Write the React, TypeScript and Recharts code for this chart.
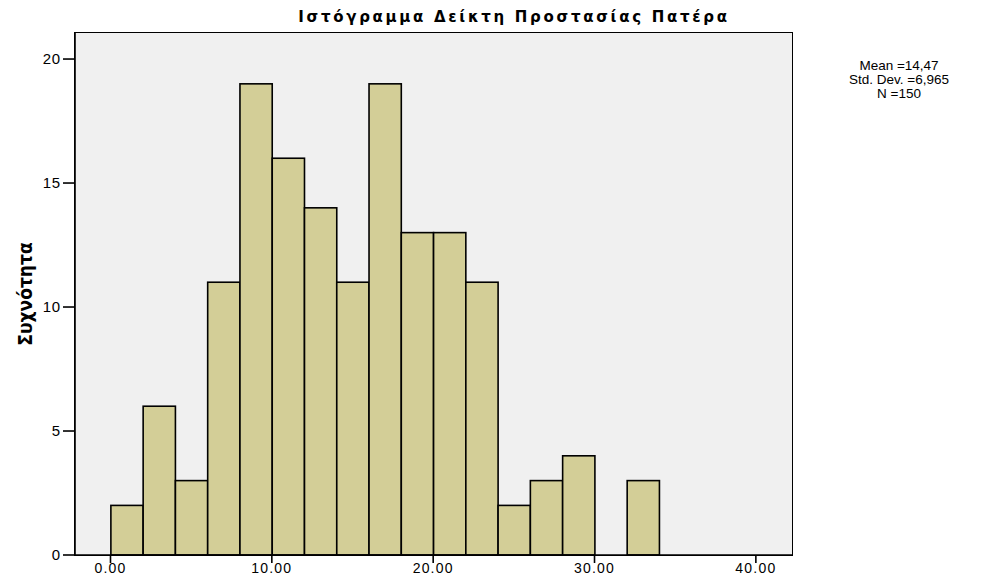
import React from 'react';
import { ComposedChart, Bar, XAxis, YAxis, CartesianGrid } from 'recharts';

// histogram bins (midpoints) and counts
const binMids = [1, 3, 5, 7, 9, 11, 13, 15, 17, 19, 21, 23, 25, 27, 29, 31, 33];
const counts = [2, 6, 3, 11, 19, 16, 14, 11, 19, 13, 13, 11, 2, 3, 4, 0, 3];
const xTicks = [0, 10, 20, 30, 40];
const yTicks = [0, 5, 10, 15, 20];
const statLines = ['Mean =14,47', 'Std. Dev. =6,965', 'N =150'];

const BIN_WIDTH = 2;
const X_DOMAIN: [number, number] = [-2.2, 42.24];
const Y_DOMAIN: [number, number] = [0, 21.05];

const W = 991;
const H = 581;
const PLOT_LEFT = 75;
const PLOT_RIGHT = 792;
const PLOT_TOP = 33;
const PLOT_BOTTOM = 555;

const data = binMids.map((mid, i) => ({ mid, count: counts[i] }));

const binPx = ((PLOT_RIGHT - PLOT_LEFT) / (X_DOMAIN[1] - X_DOMAIN[0])) * BIN_WIDTH;

const fmt = (v: number) => v.toFixed(2).replace('.', ',');

// full-width bins, centred on whatever x recharts gives the bar
const HistBar = (props: any) => {
  const { x, y, width, height } = props;
  if (!height || height <= 0) return null;
  const cx = x + width / 2;
  return (
    <rect x={cx - binPx / 2} y={y} width={binPx} height={height} fill="#d3ce97" stroke="#000" strokeWidth={1.6} />
  );
};

const App = () => {
  return (
    <div style={{ position: 'relative', width: W, height: H, margin: -8, background: '#fff', fontFamily: '"Liberation Sans", Arial, sans-serif' }}>
      <ComposedChart
        width={W}
        height={H}
        data={data}
        margin={{ top: PLOT_TOP, right: W - PLOT_RIGHT, left: PLOT_LEFT - 60, bottom: H - PLOT_BOTTOM - 26 }}
      >
        <CartesianGrid fill="#f0f0f0" horizontal={false} vertical={false} />
        <XAxis
          dataKey="mid"
          type="number"
          domain={X_DOMAIN}
          ticks={xTicks}
          allowDataOverflow
          tickFormatter={fmt}
          height={26}
          tickSize={8}
          tickMargin={0}
          axisLine={{ stroke: '#000', strokeWidth: 1.6 }}
          tickLine={{ stroke: '#000', strokeWidth: 1.6 }}
          tick={{ fill: '#000', fontSize: 14, letterSpacing: 1.2 }}
        />
        <YAxis
          type="number"
          domain={Y_DOMAIN}
          ticks={yTicks}
          allowDataOverflow
          width={60}
          tickSize={12}
          axisLine={{ stroke: '#000', strokeWidth: 1.6 }}
          tickLine={{ stroke: '#000', strokeWidth: 1.6 }}
          tick={{ fill: '#000', fontSize: 15, letterSpacing: 0.8 }}
        />
        <Bar dataKey="count" shape={HistBar} barSize={binPx} isAnimationActive={false} />
      </ComposedChart>

      {/* plot frame */}
      <div
        style={{
          position: 'absolute',
          left: PLOT_LEFT - 0.8,
          top: PLOT_TOP - 0.8,
          width: PLOT_RIGHT - PLOT_LEFT + 1.6,
          height: PLOT_BOTTOM - PLOT_TOP + 1.6,
          border: '1.6px solid #000',
          boxSizing: 'border-box',
          pointerEvents: 'none',
        }}
      />

      <div
        style={{
          position: 'absolute',
          left: 214,
          width: 600,
          top: 8,
          textAlign: 'center',
          fontFamily: '"DejaVu Sans", sans-serif',
          fontWeight: 'bold',
          fontSize: 15,
          letterSpacing: 2.7,
          whiteSpace: 'nowrap',
        }}
      >
        Ιστόγραμμα Δείκτη Προστασίας Πατέρα
      </div>

      <div
        style={{
          position: 'absolute',
          left: 25,
          top: 294,
          transform: 'translate(-50%, -50%) rotate(-90deg)',
          whiteSpace: 'nowrap',
          fontFamily: '"DejaVu Sans Condensed", "DejaVu Sans", sans-serif',
          fontWeight: 'bold',
          fontSize: 19,
        }}
      >
        Συχνότητα
      </div>

      <div style={{ position: 'absolute', left: 840, width: 118, top: 59, textAlign: 'center', fontSize: 13.5, lineHeight: '14px' }}>
        {statLines.map((s) => (
          <div key={s}>{s}</div>
        ))}
      </div>
    </div>
  );
};

export default App;
